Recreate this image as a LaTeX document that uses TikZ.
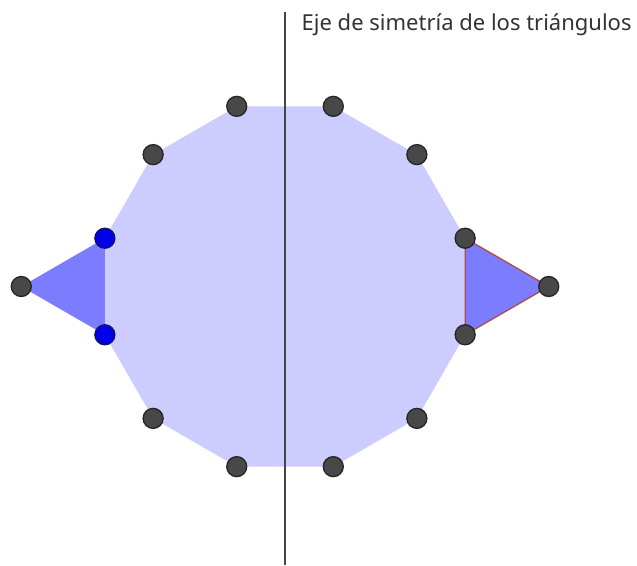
\documentclass[tikz,border=0pt]{standalone}
\usepackage{fontspec}
\setmainfont{Noto Sans}
\usetikzlibrary{calc}
\definecolor{polyfill}{RGB}{204,204,255}
\definecolor{trifill}{RGB}{124,124,255}
\definecolor{ptgrey}{RGB}{72,72,72}
\definecolor{ptblue}{RGB}{0,0,235}
\definecolor{edgered}{RGB}{175,75,75}
\definecolor{axisgrey}{RGB}{70,70,70}
\tikzset{
  pt/.style={circle, inner sep=0pt, minimum size=20pt, fill=ptgrey, draw=black!85, line width=1.3pt},
  bpt/.style={pt, fill=ptblue, draw={rgb,255:red,20;green,20;blue,90}},
  axis/.style={draw=axisgrey, line width=1.6pt},
  lbl/.style={font=\fontsize{22}{26}\selectfont, text=black!80, inner sep=0pt, anchor=base west}
}
\begin{document}
\begin{tikzpicture}[x=1pt,y=-1pt]
\fill[white] (0,0) rectangle (637,565);
\useasboundingbox (0,0) rectangle (637,565);
% dodecagon vertices
\foreach \i/\a in {1/15,2/45,3/75,4/105,5/135,6/165,7/195,8/225,9/255,10/285,11/315,12/345}{
  \coordinate (v\i) at ($(285,286.5)+({186.5*cos(\a)},{-186.5*sin(\a)})$);
}
\coordinate (rA) at ($(285,286.5)+(186.5*0.9659+83.6,0)$);
\coordinate (lA) at ($(285,286.5)+(-186.5*0.9659-83.6,0)$);
\fill[polyfill] (v1)--(v2)--(v3)--(v4)--(v5)--(v6)--(v7)--(v8)--(v9)--(v10)--(v11)--(v12)--cycle;
\fill[trifill] (v6)--(lA)--(v7)--cycle;
\fill[trifill] (v12)--(rA)--(v1)--cycle;
\draw[edgered, line width=1.3pt] (v12)--(rA)--(v1)--cycle;
\coordinate (axtop) at (285,12);
\coordinate (axbot) at (285,565);
\draw[axis] (axtop)--(axbot);
\node[lbl] (label) at (301.5,30) {Eje de simetría de los triángulos};
\foreach \i in {1,2,3,4,5,8,9,10,11,12}{ \node[pt] (p\i) at (v\i) {}; }
\node[bpt] (p6) at (v6) {};
\node[bpt] (p7) at (v7) {};
\node[pt] (pl) at (lA) {};
\node[pt] (pr) at (rA) {};
\end{tikzpicture}
\end{document}
